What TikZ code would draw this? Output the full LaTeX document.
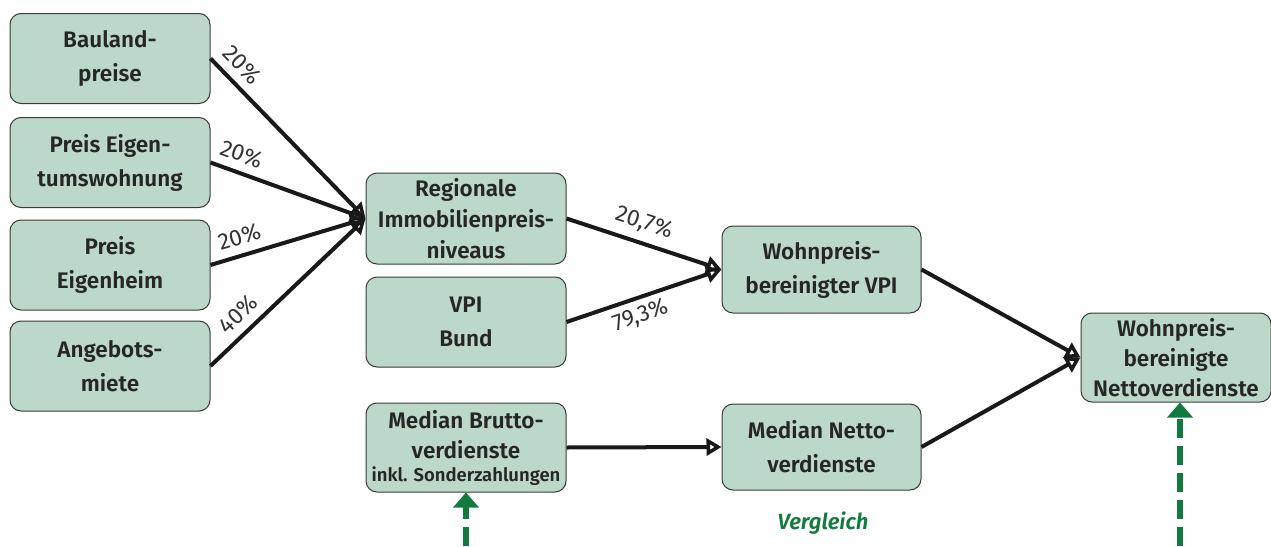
\documentclass[tikz,border=0pt]{standalone}
\usepackage{fontspec}
\setmainfont{Fira Sans}[BoldFont={Fira Sans SemiBold}, BoldItalicFont={Fira Sans SemiBold Italic}]
\usetikzlibrary{arrows.meta,calc}
\definecolor{boxfill}{HTML}{BBD8C9}
\definecolor{boxdraw}{HTML}{3A3A3A}
\definecolor{dgreen}{HTML}{137A3F}
\tikzset{
  bx/.style={draw=boxdraw, line width=1pt, fill=boxfill, rounded corners=11pt,
    minimum width=200pt, minimum height=90pt, align=center, inner sep=0pt,
    font=\fontsize{22.5}{34}\selectfont\bfseries, text=black!85},
  conn/.style={line width=4pt, black!90, -{Triangle[open, length=15pt, width=17pt, line width=3.5pt]}},
  pct/.style={font=\fontsize{23}{25}\selectfont, text=black!80, sloped, inner sep=8pt},
  greenarr/.style={dgreen, line width=6pt, dash pattern=on 19pt off 8pt,
    -{Triangle[length=15pt, width=25pt]}}
}
\begin{document}
\begin{tikzpicture}[x=1pt,y=-1pt]
\useasboundingbox (0,0) rectangle (1271,546);
% left column
\node[bx] (bau) at (110,58.5) {Bauland-\\preise};
\node[bx] (eig) at (110,162.5) {Preis Eigen-\\tumswohnung};
\node[bx] (heim) at (110,265) {Preis\\Eigenheim};
\node[bx] (miete) at (110,366) {Angebots-\\miete};
% middle column
\node[bx, minimum height=91pt, font=\fontsize{22.5}{31}\selectfont\bfseries] (reg) at (466,218.5) {Regionale\\Immobilienpreis-\\niveaus};
\node[bx] (vpi) at (466,322) {VPI\\Bund};
\node[bx, minimum height=89pt, font=\fontsize{22.5}{30}\selectfont\bfseries] (brutto) at (466,447.5) {Median Brutto-\\verdienste\\[-7pt]{\fontsize{18.5}{20}\selectfont inkl. Sonderzahlungen}};
% third column
\node[bx, minimum width=199pt, minimum height=87pt] (wvpi) at (821.5,269.5) {Wohnpreis-\\bereinigter VPI};
\node[bx, minimum width=199pt, minimum height=86pt] (netto) at (821.5,447) {Median Netto-\\verdienste};
% right
\node[bx, minimum width=190pt, minimum height=89pt, font=\fontsize{22.5}{30}\selectfont\bfseries] (wnetto) at (1176,357.5) {Wohnpreis-\\bereinigte\\Nettoverdienste};
% connectors
\draw[conn] (bau.east) -- node[pct, above, pos=0.12] {20\%} (reg.west);
\draw[conn] (eig.east) -- node[pct, above, pos=0.16] {20\%} (reg.west);
\draw[conn] (heim.east) -- node[pct, above, pos=0.22] {20\%} (reg.west);
\draw[conn] (miete.east) -- node[pct, above, pos=0.26] {40\%} (reg.west);
\draw[conn] (reg.east) -- node[pct, above, pos=0.46] {20,7\%} (wvpi.west);
\draw[conn] (vpi.east) -- node[pct, below, inner sep=6pt, pos=0.44] {79,3\%} (wvpi.west);
\draw[conn] (wvpi.east) -- (wnetto.west);
\draw[conn] (netto.east) -- (wnetto.west);
\draw[conn] (brutto.east) -- (netto.west);
% green arrows
\coordinate (g1) at (466,546);
\coordinate (g2) at (1180,546);
\draw[greenarr] (g1) -- (brutto.south);
\draw[greenarr] (g2) -- (g2 |- wnetto.south);
\node[text=dgreen, font=\fontsize{22}{24}\selectfont\bfseries\itshape] (verg) at (823,523) {Vergleich};
\end{tikzpicture}
\end{document}
